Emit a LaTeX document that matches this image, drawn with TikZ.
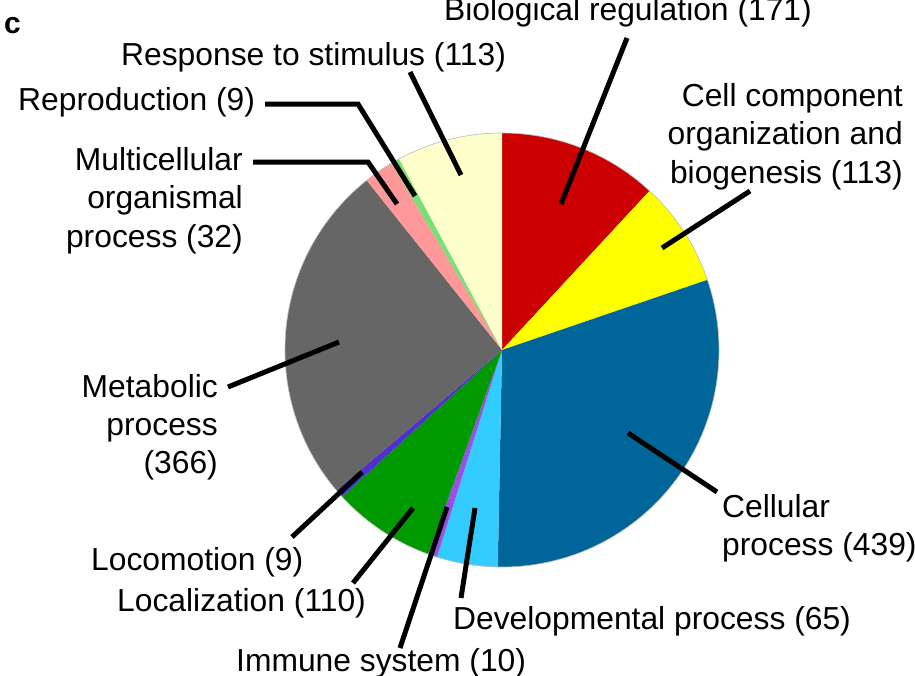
\documentclass[tikz,border=0pt]{standalone}
\usepackage{fontspec}
\setmainfont{Liberation Sans}
\definecolor{cBio}{HTML}{CC0000}
\definecolor{cComp}{HTML}{FFFF00}
\definecolor{cCell}{HTML}{006699}
\definecolor{cDev}{HTML}{33CCFF}
\definecolor{cImm}{HTML}{9950E6}
\definecolor{cLoc}{HTML}{009900}
\definecolor{cMot}{HTML}{5030CC}
\definecolor{cMet}{HTML}{666666}
\definecolor{cMul}{HTML}{FF9999}
\definecolor{cRep}{HTML}{77E077}
\definecolor{cRes}{HTML}{FFFFCC}
\tikzset{
  lbl/.style={inner sep=0pt, font=\fontsize{31.8}{38.5}\selectfont},
  leader/.style={line width=5pt, black},
  slice/.style={draw=none}
}
\newcommand{\pieslice}[3]{\fill[#1] (0,0) -- (#2:217pt) arc[start angle=#2, end angle=#3, radius=217pt] -- cycle;}
\begin{document}
\begin{tikzpicture}[x=1pt,y=-1pt]
\useasboundingbox (0,0) rectangle (915,675);
\fill[white] (0,0) rectangle (915,675);
% pie
\coordinate (ctr) at (502,350);
\begin{scope}[shift={(ctr)}]
\pieslice{cBio}{90}{47.161}
\pieslice{cComp}{47.161}{18.852}
\pieslice{cCell}{18.852}{-91.127}
\pieslice{cDev}{-91.127}{-107.411}
\pieslice{cImm}{-107.411}{-109.916}
\pieslice{cLoc}{-109.916}{-137.474}
\pieslice{cMot}{-137.474}{-139.729}
\pieslice{cMet}{-139.729}{-231.420}
\pieslice{cMul}{-231.420}{-239.436}
\pieslice{cRep}{-239.436}{-241.691}
\pieslice{cRes}{-241.691}{-270}
\draw[gray!55, line width=0.6pt] (0,0) circle[radius=217pt];
\end{scope}
% panel letter
\node[inner sep=0pt, anchor=base west, font=\fontsize{30}{36}\selectfont\bfseries] (panel) at (4,33) {c};
% labels
\node[lbl, anchor=base] (bio) at (628,20) {Biological regulation (171)};
\node[lbl, anchor=base west] (res) at (121,65) {Response to stimulus (113)};
\node[lbl, anchor=base west] (rep) at (18,110) {Reproduction (9)};
\node[lbl, anchor=base east] (mul1) at (243,170) {Multicellular};
\node[lbl, anchor=base east] (mul2) at (243,208.5) {organismal};
\node[lbl, anchor=base east] (mul3) at (243,247) {process (32)};
\node[lbl, anchor=base east] (comp1) at (903,106) {Cell component};
\node[lbl, anchor=base east] (comp2) at (903,144.5) {organization and};
\node[lbl, anchor=base east] (comp3) at (903,183) {biogenesis (113)};
\node[lbl, anchor=base east] (met1) at (218,397) {Metabolic};
\node[lbl, anchor=base east] (met2) at (218,435) {process};
\node[lbl, anchor=base east] (met3) at (218,473) {(366)};
\node[lbl, anchor=base west] (cel1) at (722,517) {Cellular};
\node[lbl, anchor=base west] (cel2) at (722,555) {process (439)};
\node[lbl, anchor=base west] (mot) at (91,570) {Locomotion (9)};
\node[lbl, anchor=base west] (loc) at (117,611) {Localization (110)};
\node[lbl, anchor=base west] (dev) at (453,629) {Developmental process (65)};
\node[lbl, anchor=base west] (imm) at (236,671) {Immune system (10)};
% leader end points
\coordinate (resA) at (410,72);   \coordinate (resB) at (461,175);
\coordinate (repA) at (265,104);  \coordinate (repK) at (358,104); \coordinate (repB) at (415,196);
\coordinate (mulA) at (253,162);  \coordinate (mulK) at (368,162); \coordinate (mulB) at (397,204);
\coordinate (bioA) at (627,38);   \coordinate (bioB) at (561,204);
\coordinate (compA) at (750,191); \coordinate (compB) at (662,248);
\coordinate (metA) at (228,387);  \coordinate (metB) at (339,342);
\coordinate (celA) at (717,492);  \coordinate (celB) at (628,433);
\coordinate (devA) at (461,598);  \coordinate (devB) at (475,508);
\coordinate (immA) at (400,648);  \coordinate (immB) at (447,507);
\coordinate (locA) at (353,583);  \coordinate (locB) at (413,508);
\coordinate (motA) at (292,537);  \coordinate (motB) at (362,472);
% leaders
\draw[leader] (resA) -- (resB);
\draw[leader] (repA) -- (repK) -- (repB);
\draw[leader] (mulA) -- (mulK) -- (mulB);
\draw[leader] (bioA) -- (bioB);
\draw[leader] (compA) -- (compB);
\draw[leader] (metA) -- (metB);
\draw[leader] (celA) -- (celB);
\draw[leader] (devA) -- (devB);
\draw[leader] (immA) -- (immB);
\draw[leader] (locA) -- (locB);
\draw[leader] (motA) -- (motB);
\end{tikzpicture}
\end{document}
